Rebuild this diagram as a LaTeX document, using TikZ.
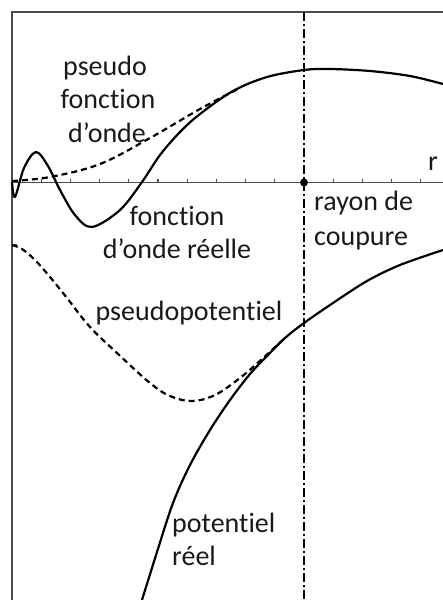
\documentclass[tikz,border=0pt]{standalone}
\usepackage{fontspec}
\setmainfont[Ligatures=NoCommon]{Carlito}
\begin{document}
\begin{tikzpicture}[x=1pt,y=-1pt,
  frameline/.style={draw=black!70,line width=1.4pt},
  curve/.style={line width=2.2pt,line join=round},
  dcurve/.style={line width=2.2pt,dash pattern=on 6pt off 4pt},
  cutline/.style={line width=2pt,dash pattern=on 9pt off 3pt on 2pt off 3pt},
  lbl/.style={font=\fontsize{28}{34}\selectfont,inner sep=0pt,text=black!90}]
\useasboundingbox (0,0) rectangle (443,600);
% frame
\coordinate (tl) at (12,12);
\coordinate (tr) at (443,12);
\coordinate (bl) at (12,600);
\coordinate (ax0) at (12,182.5);
\coordinate (ax1) at (443,182.5);
\draw[frameline] (tr) -- (tl) -- (bl);
\draw[frameline] (ax0) -- (ax1);
\foreach \k in {1,...,14} \draw[draw=black!70,line width=1.2pt] (12+29.2*\k,182.5) -- ++(0,-4);
\draw[draw=black!70,line width=1.4pt] (12,245) -- (17,245);
% cut-off line
\coordinate (ctop) at (304,12);
\coordinate (cbot) at (304,600);
\draw[cutline] (ctop) -- (cbot);
\node[circle,fill=black,inner sep=0pt,minimum size=8pt] (rc) at (304,182.5) {};
% real wave function
\draw[curve] plot[smooth,tension=0.55] coordinates {(12,182) (15,197) (24,168) (36,152) (48,166) (60,190) (75,215) (92,227) (120,210) (142,182) (160,155) (180,132) (200,114) (233,91) (267,77) (304,70) (330,69) (370,71) (410,76) (443,84)};
% pseudo wave function
\draw[dcurve] plot[smooth,tension=0.6] coordinates {(12,181) (50,177) (100,164) (150,138) (200,109) (238,89)};
% real potential
\draw[curve] plot[smooth,tension=0.55] coordinates {(142,600) (157,552) (173,503) (190,465) (210,430) (230,400) (250,374) (267,356) (285,338) (304,323) (333,303) (367,281) (400,265) (443,250)};
% pseudopotential
\draw[dcurve] plot[smooth,tension=0.6] coordinates {(12,245) (22,249) (35,260) (50,277) (67,298) (90,327) (117,353) (150,383) (170,396) (192,401) (215,395) (240,378) (262,359) (285,338)};
% labels
\node[lbl,anchor=base] (pw1) at (105,75) {pseudo};
\node[lbl,anchor=base] (pw2) at (108,108.5) {fonction};
\node[lbl,anchor=base] (pw3) at (107,142.5) {d’onde};
\node[lbl,anchor=base] (rw1) at (177,225) {fonction};
\node[lbl,anchor=base] (rw2) at (177,258.5) {d’onde réelle};
\node[lbl,anchor=base west] (rc1) at (314,210) {rayon de};
\node[lbl,anchor=base west] (rc2) at (314,245) {coupure};
\node[lbl,anchor=base] (pp) at (189,320) {pseudopotentiel};
\node[lbl,anchor=base west] (rp1) at (172,532) {potentiel};
\node[lbl,anchor=base west] (rp2) at (172,565) {réel};
\node[lbl,anchor=base west] (r) at (428,170) {r};
\end{tikzpicture}
\end{document}
